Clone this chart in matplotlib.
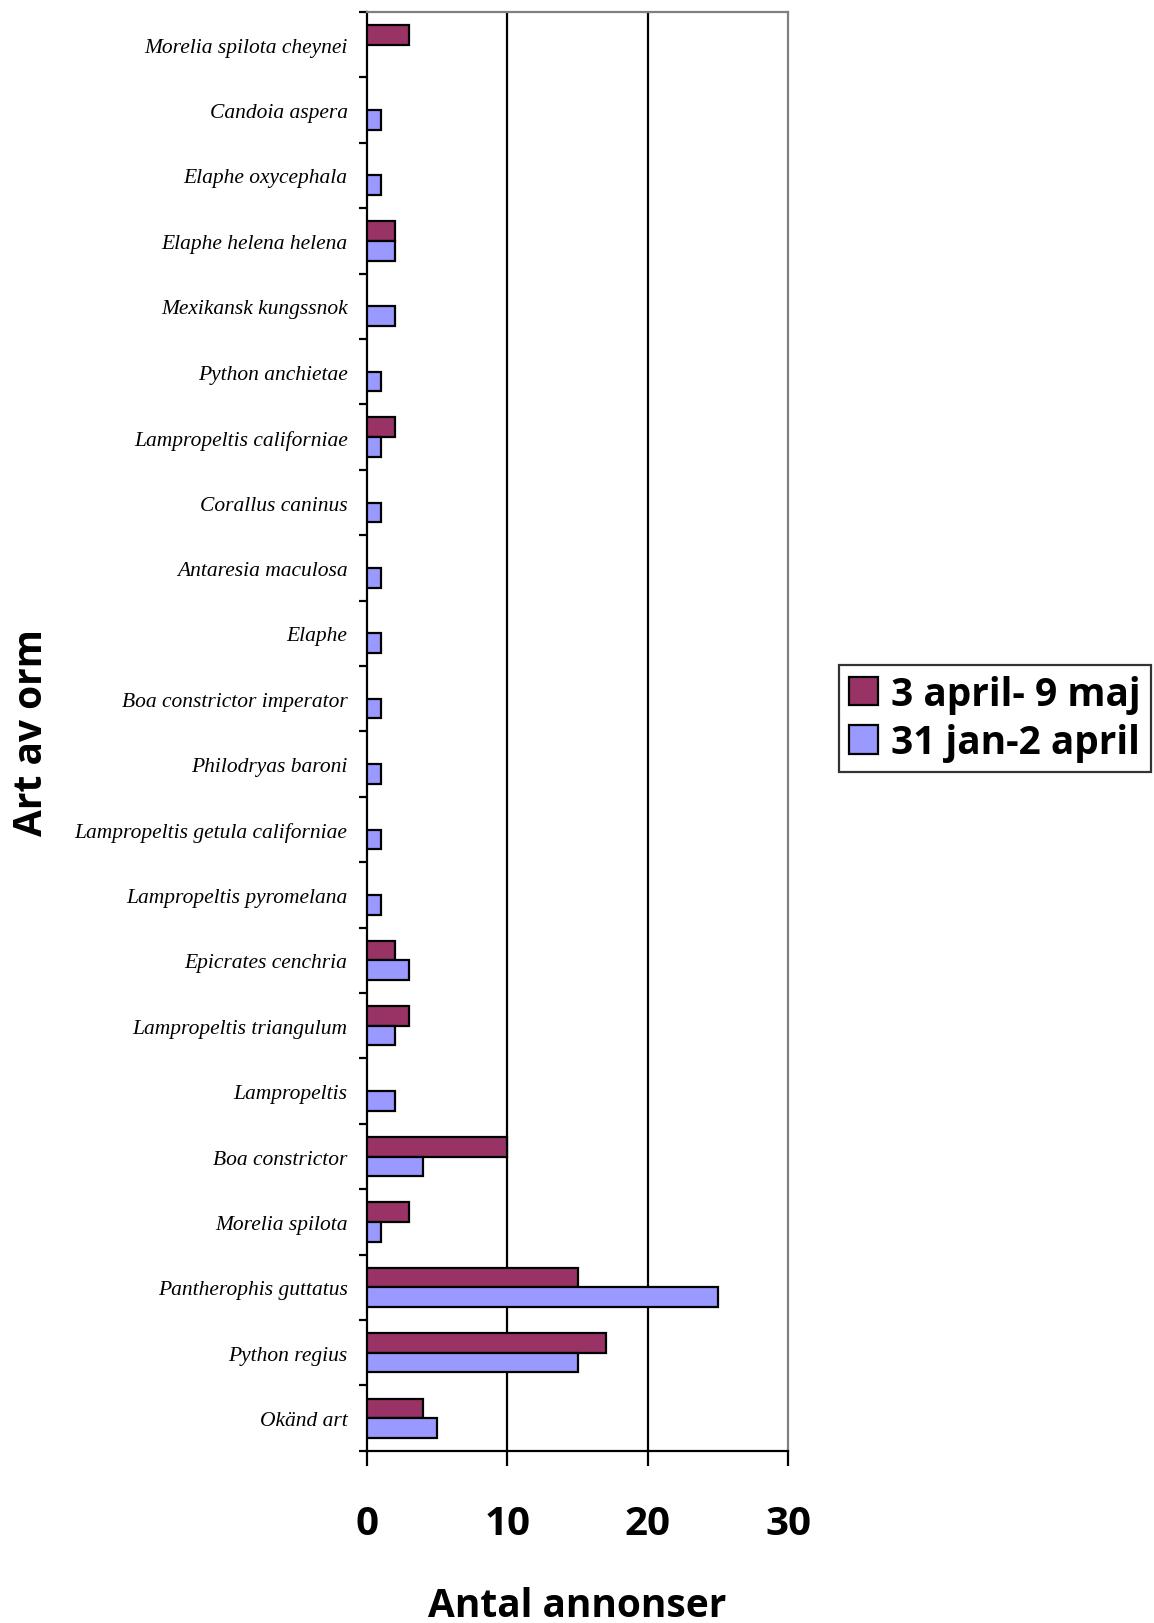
import matplotlib
matplotlib.use("Agg")
import matplotlib.pyplot as plt
import numpy as np
from matplotlib.patches import Patch

# Species, listed bottom to top
species = [
    "Okänd art", "Python regius", "Pantherophis guttatus", "Morelia spilota",
    "Boa constrictor", "Lampropeltis", "Lampropeltis triangulum",
    "Epicrates cenchria", "Lampropeltis pyromelana",
    "Lampropeltis getula californiae", "Philodryas baroni",
    "Boa constrictor imperator", "Elaphe", "Antaresia maculosa",
    "Corallus caninus", "Lampropeltis californiae", "Python anchietae",
    "Mexikansk kungssnok", "Elaphe helena helena", "Elaphe oxycephala",
    "Candoia aspera", "Morelia spilota cheynei",
]
period_apr_maj = [4, 17, 15, 3, 10, 0, 3, 2, 0, 0, 0, 0, 0, 0, 0, 2, 0, 0, 2, 0, 0, 3]
period_jan_apr = [5, 15, 25, 1, 4, 2, 2, 3, 1, 1, 1, 1, 1, 1, 1, 1, 1, 2, 2, 1, 1, 0]
series_labels = ["3 april- 9 maj", "31 jan-2 april"]
xticks = [0, 10, 20, 30]

red = "#993366"
blue = "#9999FF"

fig = plt.figure(figsize=(11.54, 16.24), dpi=100)
ax = fig.add_axes([0.318, 0.106, 0.365, 0.886])

y = np.arange(len(species))
h = 0.3
for yi, v in zip(y, period_apr_maj):
    if v > 0:
        ax.barh(yi + h / 2, v, height=h, color=red, edgecolor="black", linewidth=1.6, zorder=3)
for yi, v in zip(y, period_jan_apr):
    if v > 0:
        ax.barh(yi - h / 2, v, height=h, color=blue, edgecolor="black", linewidth=1.6, zorder=3)

ax.set_xlim(0, 30)
ax.set_ylim(-0.5, len(species) - 0.5)

# vertical gridlines
for gx in [10, 20]:
    ax.axvline(gx, color="black", linewidth=1.6, zorder=1)

ax.set_yticks(y)
ax.set_yticklabels(species, fontfamily="Liberation Serif", fontstyle="italic", fontsize=15.5)
ax.tick_params(axis="y", which="major", length=0, pad=14)
ax.set_yticks(np.arange(-0.5, len(species) + 0.5, 1), minor=True)
ax.tick_params(axis="y", which="minor", length=6, width=1.6, direction="out")

ax.set_xticks(xticks)
ax.set_xticklabels([str(t) for t in xticks], fontfamily="Open Sans", fontweight="bold", fontsize=29)
ax.tick_params(axis="x", length=11, width=1.6, direction="out", pad=27)

for s in ["left", "bottom"]:
    ax.spines[s].set_color("black")
    ax.spines[s].set_linewidth(1.6)
for s in ["top", "right"]:
    ax.spines[s].set_color("#808080")
    ax.spines[s].set_linewidth(1.6)

fig.text(0.027, 0.549, "Art av orm", rotation=90, ha="center", va="center",
         fontfamily="Open Sans", fontweight="bold", fontsize=28)
fig.text(0.5, 0.0105, "Antal annonser", ha="center", va="center",
         fontfamily="Open Sans", fontweight="bold", fontsize=28)

handles = [Patch(facecolor=red, edgecolor="black", linewidth=1.6),
           Patch(facecolor=blue, edgecolor="black", linewidth=1.6)]
leg = fig.legend(handles, series_labels, loc="upper left", bbox_to_anchor=(0.727, 0.59),
                 prop={"family": "Open Sans", "weight": "bold", "size": 28},
                 frameon=True, fancybox=False, edgecolor="black",
                 handlelength=0.75, handleheight=0.75, handletextpad=0.35,
                 borderpad=0.25, labelspacing=0.25, borderaxespad=0)
leg.get_frame().set_linewidth(1.6)

fig.savefig("out.png", dpi=100)
